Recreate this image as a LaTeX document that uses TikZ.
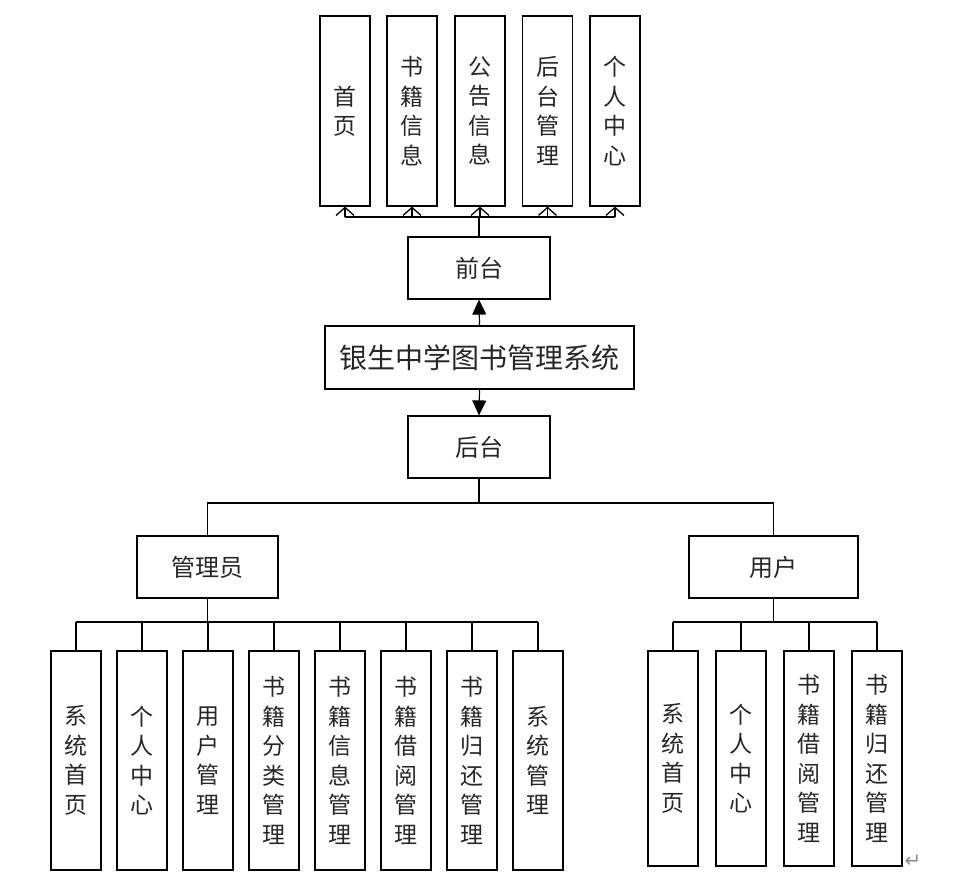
\documentclass[tikz,border=0pt]{standalone}
\usepackage{fontspec}
\setmainfont{Noto Sans CJK SC}
\newfontfamily\symfont{DejaVu Sans}
\usetikzlibrary{arrows.meta}
\tikzset{
  box/.style={draw, line width=1.2pt, inner sep=0pt, align=center, text=black!85},
  vbox/.style={box, minimum width=50pt, font=\fontsize{23}{29.5}\selectfont},
  hbox/.style={box, minimum width=142pt, minimum height=62pt, font=\fontsize{24}{28}\selectfont},
  conn/.style={line width=1.2pt},
  barb/.style={conn, -{Straight Barb[length=8pt,width=18pt,line width=1.3pt]}},
  tri/.style={conn, -{Triangle[length=15pt,width=14pt]}},
}
\begin{document}
\begin{tikzpicture}[x=1pt,y=-1pt]
\useasboundingbox (0,0) rectangle (980,884);
% top row
\foreach \n/\x/\t in {t1/345/首\\页, t2/412/书\\籍\\信\\息, t3/480/公\\告\\信\\息, t4/547.5/后\\台\\管\\理, t5/615/个\\人\\中\\心}
  \node[vbox, minimum height=190pt] (\n) at (\x,111) {\t};
\node[hbox] (qt) at (479,268) {前台};
\node[box, minimum width=309pt, minimum height=63pt, font=\fontsize{28}{32}\selectfont] (sys) at (479.5,357.5) {银生中学图书管理系统};
\node[hbox] (ht) at (479,447) {后台};
\node[hbox, minimum width=141pt] (gly) at (207.5,567) {管理员};
\node[hbox, minimum width=169pt] (yh) at (773.5,567) {用户};
% admin boxes
\foreach \n/\x/\t in {a1/76/系\\统\\首\\页, a2/142/个\\人\\中\\心, a3/208/用\\户\\管\\理, a4/274/书\\籍\\分\\类\\管\\理, a5/340/书\\籍\\信\\息\\管\\理, a6/406/书\\籍\\借\\阅\\管\\理, a7/472/书\\籍\\归\\还\\管\\理, a8/538/系\\统\\管\\理}
  \node[vbox, minimum height=219pt] (\n) at (\x,760.5) {\t};
% user boxes
\foreach \n/\x/\t in {u1/673/系\\统\\首\\页, u2/741/个\\人\\中\\心, u3/809/书\\籍\\借\\阅\\管\\理, u4/877/书\\籍\\归\\还\\管\\理}
  \node[vbox, minimum height=215pt] (\n) at (\x,758.5) {\t};
% top connectors
\coordinate (tj) at (479,217);
\draw[conn] (qt.north) -- (tj);
\draw[conn] (t1.south |- tj) -- (t5.south |- tj);
\foreach \n in {t1,t2,t3,t4,t5}
  \draw[barb] (\n.south |- tj) -- (\n.south);
% middle arrows
\draw[tri] (sys.north) -- (qt.south);
\draw[tri] (sys.south) -- (ht.north);
% back tree
\coordinate (bj) at (479,503);
\draw[conn] (ht.south) -- (bj);
\draw[conn] (gly.north) |- (bj) -| (yh.north);
\coordinate (aj) at (207.5,622);
\draw[conn] (gly.south) -- (aj);
\draw[conn] (a1.north |- aj) -- (a8.north |- aj);
\foreach \n in {a1,a2,a3,a4,a5,a6,a7,a8}
  \draw[conn] (\n.north |- aj) -- (\n.north);
\coordinate (uj) at (773.5,622);
\draw[conn] (yh.south) -- (uj);
\draw[conn] (u1.north |- uj) -- (u4.north |- uj);
\foreach \n in {u1,u2,u3,u4}
  \draw[conn] (\n.north |- uj) -- (\n.north);
% paragraph mark
\node[text=black!45, font=\symfont\fontsize{20}{20}\selectfont, inner sep=0pt] (pm) at (913,861) {↵};
\end{tikzpicture}
\end{document}
